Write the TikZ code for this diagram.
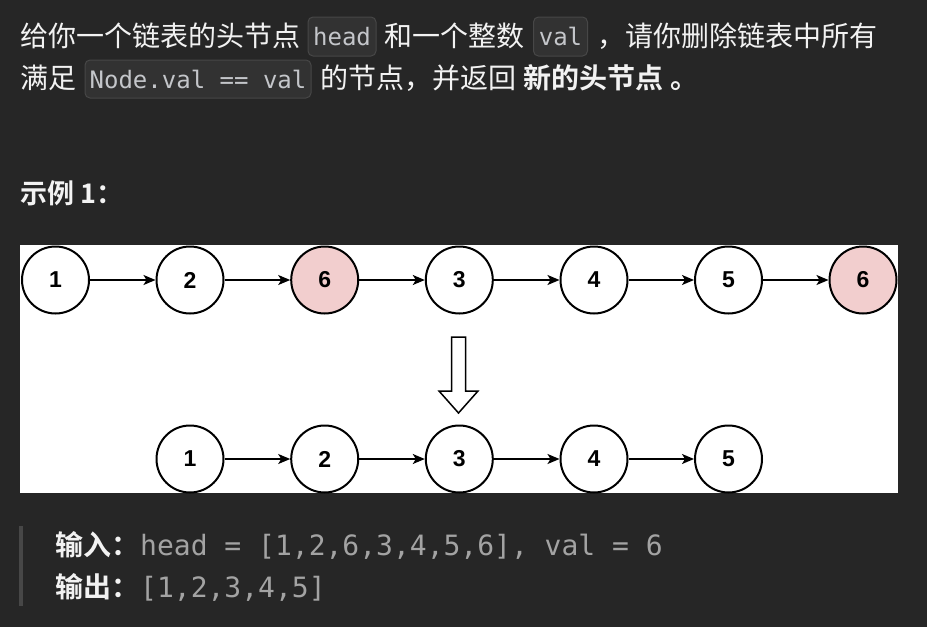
\documentclass[tikz,border=0pt]{standalone}
\usepackage{fontspec}
\setmainfont{Liberation Sans}
\newfontfamily\cjk{Noto Sans CJK SC}[BoldFont={Noto Sans CJK SC Bold}]
\newfontfamily\mono{DejaVu Sans Mono}
\usetikzlibrary{arrows.meta}
\definecolor{bgc}{HTML}{262626}
\definecolor{fgc}{HTML}{F2F2F2}
\definecolor{codebg}{HTML}{323232}
\definecolor{codeborder}{HTML}{474747}
\definecolor{codefg}{HTML}{C4C6CA}
\definecolor{pinkc}{HTML}{F2CECE}
\definecolor{monogray}{HTML}{A3A3A3}
\definecolor{barc}{HTML}{474747}
\begin{document}
\begin{tikzpicture}[x=1pt,y=-1pt,
  txt/.style={anchor=base west, inner sep=0pt, text=fgc, font=\cjk\fontsize{28}{32}\selectfont},
  txtb/.style={txt, font=\cjk\bfseries\fontsize{28}{32}\selectfont},
  codebox/.style={draw=codeborder, fill=codebg, rounded corners=5pt, text=codefg, font=\mono\fontsize{24}{28}\selectfont, inner sep=0pt, line width=1pt, minimum height=39pt},
  monotxt/.style={anchor=base west, inner sep=0pt, text=monogray, font=\mono\fontsize{28}{32}\selectfont},
  nd/.style={circle, draw=black, line width=2pt, fill=white, minimum size=67pt, inner sep=0pt, font=\bfseries\fontsize{23}{27}\selectfont},
  rednd/.style={nd, fill=pinkc},
  arr/.style={-{Stealth[length=12pt,width=10pt,inset=3pt]}, line width=1.5pt}
]
\fill[bgc] (0,0) rectangle (927,627);
\useasboundingbox (0,0) rectangle (927,627);

% description text
\node[txt] (l1a) at (20,46) {给你一个链表的头节点};
\node[codebox, minimum width=68pt] (k1) at (342,36.5) {head};
\node[txt] (l1b) at (384,46) {和一个整数};
\node[codebox, minimum width=54pt] (k2) at (560.5,36.5) {val};
\node[txt] (l1c) at (597,46) {，请你删除链表中所有};

\node[txt] (l2a) at (20,88) {满足};
\node[codebox, minimum width=226pt, minimum height=38pt] (k3) at (198,79) {Node.val == val};
\node[txt] (l2b) at (320,88) {的节点，并返回};
\node[txtb] (l2c) at (523,88) {新的头节点};
\node[txtb] (l2d) at (670,88) {。};

% heading
\node[txtb, font=\cjk\bfseries\fontsize{27}{30}\selectfont] (h1) at (20,203) {示例 1：};

% figure
\fill[white] (20,245) rectangle (898,493);

\node[nd] (t1) at (55.5,280) {1};
\node[nd] (t2) at (190,280) {2};
\node[rednd] (t3) at (324.7,280) {6};
\node[nd] (t4) at (459.3,280) {3};
\node[nd] (t5) at (594,280) {4};
\node[nd] (t6) at (728.5,280) {5};
\node[rednd] (t7) at (863,280) {6};
\foreach \a/\b in {t1/t2,t2/t3,t3/t4,t4/t5,t5/t6,t6/t7} \draw[arr] (\a) -- (\b);

\draw[black, line width=1.5pt, fill=white, line join=miter]
  (451.5,337) -- (465.5,337) -- (465.5,391) -- (478,391) -- (458.5,413) -- (439,391) -- (451.5,391) -- cycle;

\node[nd] (b1) at (190,459) {1};
\node[nd] (b2) at (324.7,459) {2};
\node[nd] (b3) at (459.3,459) {3};
\node[nd] (b4) at (594,459) {4};
\node[nd] (b5) at (728.5,459) {5};
\foreach \a/\b in {b1/b2,b2/b3,b3/b4,b4/b5} \draw[arr] (\a) -- (\b);

% example io
\fill[barc] (19,526) rectangle (23,606);
\node[txtb] (i1) at (55,555) {输入：};
\node[monotxt] (i2) at (140,555) {head = [1,2,6,3,4,5,6], val = 6};
\node[txtb] (o1) at (55,597) {输出：};
\node[monotxt] (o2) at (140,597) {[1,2,3,4,5]};
\end{tikzpicture}
\end{document}
